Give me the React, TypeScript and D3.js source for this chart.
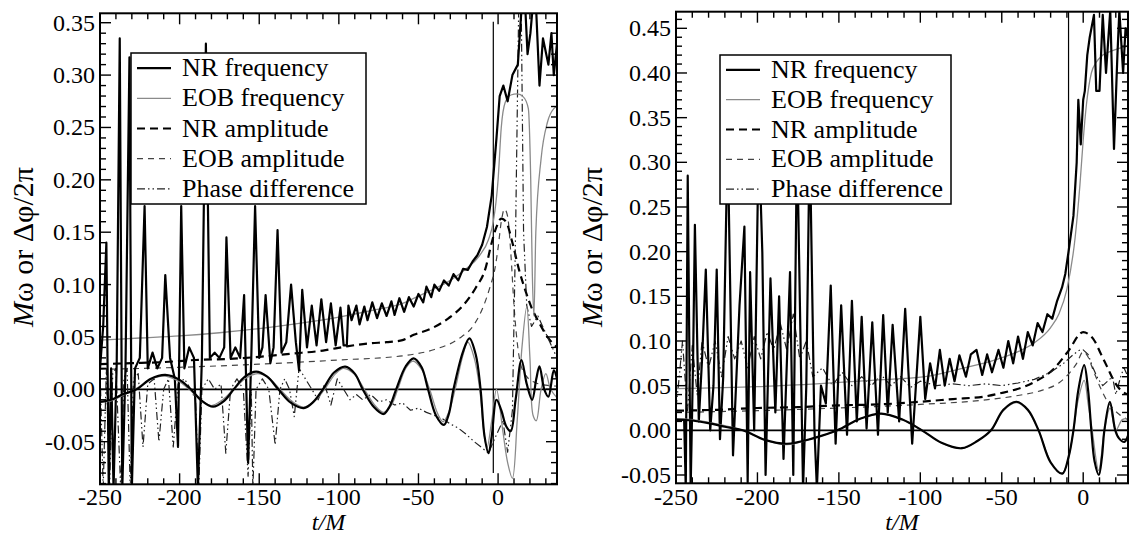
import React from "react";
import * as d3 from "d3";

type Pt = [number, number];

const width = 1136;
const height = 536;

const legendLabels = ["NR frequency", "EOB frequency", "NR amplitude", "EOB amplitude", "Phase difference"];
const xMajorTicks = [-250, -200, -150, -100, -50, 0];
const leftYTicks = [-0.05, 0, 0.05, 0.1, 0.15, 0.2, 0.25, 0.3, 0.35];
const rightYTicks = [-0.05, 0, 0.05, 0.1, 0.15, 0.2, 0.25, 0.3, 0.35, 0.4, 0.45];

// ---------- left panel ----------
const leftNrFreq: Pt[] = [
  [-250, 0.02], [-248, 0.06], [-246, 0.14], [-244.5, -0.095], [-243, 0.02], [-241.5, -0.095], [-239.5, 0.025],
  [-237.6, 0.335], [-236, -0.095], [-234, 0.02], [-231.5, 0.317], [-230, -0.095], [-228, 0.02], [-225, 0.03],
  [-222, 0.175], [-220, 0.02], [-217, 0.035], [-214, 0.02], [-211, 0.03], [-209, 0.109], [-206, 0.03], [-203, 0.01],
  [-201, -0.055], [-199, 0.175], [-197, 0.02], [-194, 0.04], [-191, 0.03], [-188.5, -0.095], [-186, 0.03],
  [-183.5, 0.33], [-181, 0.03], [-178, 0.035], [-175, 0.03], [-172, 0.04], [-170.6, 0.145], [-168, 0.03],
  [-165, 0.04], [-162, 0.03], [-159.5, 0.09], [-157, -0.07], [-155, 0.03], [-152.6, 0.175], [-150, 0.03],
  [-148, 0.04], [-146, 0.09], [-143, 0.025], [-141, 0.04], [-138.5, 0.152], [-136, 0.035], [-133, 0.045],
  [-130, 0.1], [-127, 0.045], [-125, 0.018], [-123, 0.095], [-120, 0.04], [-117, 0.08], [-114, 0.042],
  [-111, 0.086], [-108, 0.045], [-105, 0.082], [-102, 0.042], [-99, 0.078], [-97, 0.042], [-95, 0.042],
  [-94, 0.08], [-92, 0.066], [-89, 0.08], [-87, 0.062], [-84, 0.079], [-82, 0.066], [-79, 0.083], [-76, 0.068],
  [-73, 0.082], [-70, 0.07], [-67, 0.084], [-65, 0.071], [-62, 0.087], [-59, 0.074], [-56, 0.088], [-53, 0.079],
  [-50, 0.091], [-47, 0.083], [-45, 0.098], [-42, 0.088], [-40, 0.1], [-37, 0.094], [-34, 0.104], [-31, 0.099],
  [-28, 0.11], [-25, 0.104], [-22, 0.115], [-19, 0.114], [-16, 0.122], [-13, 0.128], [-10, 0.138], [-7, 0.155],
  [-4, 0.185], [-1, 0.24], [1, 0.28], [3.3, 0.29], [6, 0.275], [9, 0.3], [12.4, 0.31], [15, 0.37], [16.9, 0.37],
  [18.5, 0.32], [20.3, 0.34], [22, 0.37], [23.7, 0.37], [26, 0.29], [28.2, 0.335], [31.6, 0.31], [33.5, 0.34],
  [35, 0.3], [37, 0.33],
];
const leftEobFreq: Pt[] = [
  [-250, 0.047], [-225, 0.049], [-200, 0.051], [-175, 0.054], [-150, 0.058], [-125, 0.063], [-100, 0.069],
  [-80, 0.075], [-60, 0.082], [-50, 0.089], [-40, 0.096], [-30, 0.104], [-20, 0.115], [-12, 0.127], [-6, 0.143],
  [-3, 0.16], [0, 0.2], [2, 0.25], [4.5, 0.274], [8, 0.281], [12, 0.282], [16, 0.279], [19, 0.268], [20.5, 0.2],
  [21.5, 0.11], [22.5, 0.07], [23.7, 0.15], [27, 0.22], [31, 0.255], [35, 0.268], [37, 0.27],
];
const leftNrAmp: Pt[] = [
  [-250, 0.024], [-230, 0.025], [-210, 0.026], [-190, 0.028], [-170, 0.029], [-150, 0.031], [-130, 0.034],
  [-110, 0.037], [-95, 0.041], [-80, 0.044], [-70, 0.045], [-60, 0.047], [-53, 0.052], [-42, 0.058], [-31, 0.068],
  [-22, 0.08], [-14, 0.097], [-8, 0.115], [-4, 0.14], [-1, 0.155], [2, 0.163], [5, 0.16], [9, 0.14], [13, 0.115],
  [17, 0.095], [21, 0.078], [26, 0.063], [31, 0.05], [37, 0.04],
];
const leftEobAmp: Pt[] = [
  [-250, 0.019], [-200, 0.021], [-150, 0.024], [-100, 0.028], [-60, 0.032], [-40, 0.038], [-25, 0.048],
  [-15, 0.062], [-9, 0.08], [-5, 0.098], [-2, 0.115], [0, 0.135], [2, 0.16], [4, 0.172], [6, 0.165], [8, 0.13],
  [10, 0.08], [12, 0.045], [14, 0.025], [18, 0.012], [24, 0.006], [30, 0.004], [37, 0.003],
];
const leftPhase: Pt[] = [
  [-250, 0.02], [-248, -0.095], [-246, 0.02], [-244, -0.095], [-242, 0.015], [-240, 0.02], [-237, -0.095],
  [-235, 0.01], [-233, 0.02], [-231, -0.095], [-229, 0.01], [-226, 0.015], [-223, -0.055], [-220, 0.005],
  [-216, 0.01], [-213, -0.05], [-210, 0.0], [-207, 0.01], [-204, -0.055], [-201, 0.005], [-197, 0.01],
  [-193, 0.0], [-190, -0.01], [-188, -0.095], [-186, 0.0], [-182, 0.01], [-178, 0.0], [-174, 0.005],
  [-171, -0.061], [-168, 0.0], [-164, 0.01], [-160, 0.0], [-157, -0.083], [-155, 0.0], [-154, -0.095],
  [-152, 0.0], [-148, 0.01], [-144, 0.0], [-140, -0.053], [-137, 0.0], [-134, 0.01], [-131, 0.0], [-128, -0.026],
  [-125, 0.02], [-121, 0.01], [-117, 0.0], [-113, -0.01], [-109, 0.005], [-105, -0.015], [-101, 0.01],
  [-97, 0.0], [-93, -0.01], [-89, -0.005], [-85, -0.01], [-80, -0.005], [-75, -0.012], [-70, -0.01],
  [-65, -0.015], [-60, -0.013], [-55, -0.02], [-50, -0.018], [-45, -0.022], [-40, -0.025], [-35, -0.028],
  [-30, -0.033], [-25, -0.037], [-20, -0.043], [-15, -0.05], [-10, -0.056], [-6, -0.061], [-3, -0.05],
  [0, -0.04], [3, -0.03], [6, -0.06], [9, -0.02], [11, 0.15], [13, 0.37], [14.5, 0.37], [16, 0.15], [18, 0.08],
  [21, 0.06], [25, 0.07], [28, 0.06], [31, 0.05], [34, 0.04], [37, 0.03],
];
const leftNrWave: Pt[] = [
  [-250, -0.012], [-243, -0.01], [-236, -0.005], [-227, 0], [-218, 0.01], [-209, 0.0137], [-200, 0.009],
  [-193, 0], [-186, -0.011], [-179, -0.0166], [-172, -0.011], [-166, 0], [-159, 0.012], [-152, 0.0169],
  [-145, 0.012], [-138, 0], [-130, -0.013], [-122, -0.018], [-116, -0.012], [-110, 0], [-103, 0.016],
  [-96, 0.0217], [-90, 0.015], [-85, 0], [-78, -0.017], [-72, -0.0236], [-68, -0.016], [-64, 0], [-58, 0.022],
  [-53, 0.0296], [-48, 0.021], [-44, 0], [-39, -0.025], [-34, -0.034], [-31, -0.024], [-28, 0], [-22, 0.036],
  [-18, 0.0487], [-14, 0.033], [-11, 0], [-8.5, -0.045], [-6, -0.061], [-4, -0.045], [-1, -0.01], [2, -0.02],
  [5, -0.035], [7.9, -0.04], [11, -0.01], [14.7, 0.028], [18, 0.005], [21.4, -0.01], [24, 0.01], [26, 0.022],
  [29, 0.0], [31.6, -0.007], [35, 0.018], [37, 0.01],
];
const leftEobWave: Pt[] = [
  [-250, -0.012], [-243, -0.011], [-236, -0.006], [-228, 0], [-219, 0.009], [-210, 0.0125], [-201, 0.008],
  [-194, 0], [-187, -0.01], [-180, -0.0155], [-173, -0.01], [-166, 0], [-158, 0.011], [-151, 0.015],
  [-144, 0.011], [-137, 0], [-129, -0.012], [-122, -0.017], [-115, -0.011], [-109, 0], [-102, 0.015],
  [-97, 0.02], [-90, 0.014], [-84, 0], [-77, -0.016], [-72, -0.022], [-67, -0.015], [-63, 0], [-58, 0.02],
  [-53.5, 0.027], [-48, 0.019], [-43, 0], [-38, -0.023], [-34.5, -0.031], [-31, -0.022], [-27, 0],
  [-22, 0.033], [-19, 0.045], [-15, 0.03], [-11.5, 0], [-9, -0.04], [-7, -0.056], [-4, -0.03], [-1, 0.0],
  [3, -0.04], [6, -0.07], [9, -0.085], [12, -0.03], [15, 0.04], [18, 0.079], [20, 0.03], [22, -0.025],
  [24, -0.03], [27, 0.0], [30, 0.015], [33, 0.0], [37, -0.008],
];
const leftMarker: Pt[] = [[-3, -0.08], [-3, 0.351]];

// ---------- right panel ----------
const rightNrFreq: Pt[] = [
  [-250, 0.012], [-245, 0.012], [-244, -0.065], [-242.8, 0.285], [-241, -0.065], [-239.5, 0.08], [-238.4, 0.23],
  [-236, 0.01], [-234, 0.08], [-231.7, 0.18], [-229, 0.0], [-227, 0.05], [-225, 0.18], [-223, -0.01],
  [-221, 0.06], [-218.3, 0.33], [-215, -0.028], [-211, 0.14], [-208, 0.228], [-206, -0.058], [-204.5, 0.177],
  [-202, 0.0], [-199.2, 0.33], [-197, 0.199], [-195, -0.05], [-192, 0.17], [-189, 0.02], [-186.7, 0.15],
  [-184, -0.032], [-180, 0.177], [-178, -0.05], [-175.7, 0.33], [-172, -0.065], [-170, 0.05], [-167.9, 0.33],
  [-165, 0.0], [-163.5, -0.065], [-161, 0.05], [-158, 0.03], [-155, 0.162], [-152, -0.015], [-148.6, 0.14],
  [-145, -0.005], [-142, 0.145], [-139, 0.01], [-136, 0.127], [-133, 0.002], [-129.5, 0.121], [-126, -0.005],
  [-122.8, 0.129], [-120, 0.02], [-117, 0.118], [-113, 0.01], [-109.3, 0.136], [-105, -0.015], [-100, 0.127],
  [-97, 0.035], [-94, 0.075], [-91, 0.047], [-88, 0.09], [-85, 0.05], [-82, 0.08], [-79, 0.055], [-76, 0.084],
  [-72, 0.06], [-69, 0.085], [-65.5, 0.09], [-62, 0.062], [-59, 0.085], [-56, 0.065], [-52, 0.09], [-49, 0.07],
  [-46, 0.1], [-43, 0.075], [-40, 0.105], [-37, 0.08], [-34, 0.11], [-31, 0.095], [-28, 0.12], [-25, 0.11],
  [-22, 0.13], [-19, 0.125], [-16, 0.145], [-13, 0.16], [-11, 0.175], [-9, 0.2], [-6, 0.24], [-4, 0.3],
  [-3, 0.37], [-1.5, 0.32], [0, 0.37], [1, 0.38], [2.5, 0.42], [4, 0.44], [6.6, 0.465], [8, 0.38], [10, 0.38],
  [12, 0.465], [14, 0.4], [16.6, 0.47], [18.9, 0.315], [21, 0.42], [22.2, 0.47], [24.5, 0.4], [26, 0.45],
  [27.5, 0.44],
];
const rightEobFreq: Pt[] = [
  [-250, 0.0466], [-200, 0.049], [-164, 0.052], [-130, 0.056], [-97, 0.06], [-75, 0.069], [-52, 0.08],
  [-40, 0.088], [-30, 0.098], [-20, 0.115], [-15, 0.13], [-10, 0.158], [-5, 0.215], [-2, 0.275], [0, 0.325],
  [2, 0.365], [5, 0.4], [8, 0.412], [12, 0.42], [18, 0.425], [27.5, 0.43],
];
const rightNrAmp: Pt[] = [
  [-250, 0.022], [-225, 0.023], [-200, 0.025], [-175, 0.026], [-150, 0.028], [-125, 0.029], [-100, 0.032],
  [-80, 0.035], [-60, 0.038], [-52, 0.041], [-30, 0.054], [-18, 0.069], [-9.4, 0.088], [0, 0.11], [3, 0.108],
  [7, 0.1], [11, 0.085], [15, 0.07], [19, 0.055], [23, 0.045], [27.5, 0.04],
];
const rightEobAmp: Pt[] = [
  [-250, 0.02], [-200, 0.022], [-150, 0.025], [-100, 0.029], [-60, 0.034], [-40, 0.039], [-25, 0.045],
  [-15, 0.053], [-9, 0.063], [-4, 0.075], [0, 0.088], [3, 0.082], [6, 0.068], [10, 0.05], [14, 0.035],
  [18, 0.025], [22, 0.018], [27.5, 0.012],
];
const rightPhase: Pt[] = [
  [-250, 0.025], [-248, 0.06], [-246, 0.1], [-243, 0.02], [-240, 0.095], [-237, 0.04], [-234, 0.1], [-230, 0.07],
  [-226, 0.1], [-222, 0.06], [-218, 0.105], [-214, 0.08], [-210, 0.1], [-206, 0.07], [-202, 0.105], [-198, 0.08],
  [-194, 0.11], [-190, 0.09], [-186, 0.12], [-182, 0.09], [-178, 0.13], [-174, 0.08], [-170, 0.1], [-166, 0.06],
  [-160, 0.07], [-154, 0.05], [-148, 0.065], [-142, 0.05], [-136, 0.06], [-130, 0.05], [-124, 0.062],
  [-118, 0.05], [-112, 0.06], [-106, 0.048], [-100, 0.055], [-90, 0.05], [-80, 0.052], [-70, 0.05],
  [-60, 0.052], [-50, 0.05], [-40, 0.053], [-30, 0.057], [-20, 0.065], [-12, 0.075], [-6, 0.085], [-2, 0.09],
  [0, 0.09], [3, 0.085], [6, 0.07], [9, 0.058], [12, 0.05], [15, 0.055], [18, 0.06], [20, 0.04], [23, 0.06],
  [25, 0.07], [27.5, 0.06],
];
const rightNrWave: Pt[] = [
  [-250, 0.012], [-240, 0.011], [-230, 0.008], [-220, 0.004], [-209, 0], [-195, -0.011], [-182, -0.015],
  [-166, -0.009], [-151, 0], [-137, 0.013], [-124, 0.0187], [-111, 0.012], [-99, 0], [-87, -0.014],
  [-74.5, -0.02], [-65, -0.012], [-56.6, 0], [-49, 0.023], [-41, 0.032], [-34, 0.023], [-27.4, 0],
  [-20, -0.036], [-12.8, -0.0485], [-9, -0.03], [-6, 0], [-3, 0.045], [0.6, 0.073], [3, 0.045], [5, 0],
  [7, -0.035], [9.6, -0.05], [11.5, -0.03], [13, 0], [16.4, 0.032], [19.7, 0], [22, -0.009], [25.3, -0.013],
  [27.5, -0.006],
];
const rightEobWave: Pt[] = [
  [-250, 0.013], [-240, 0.012], [-230, 0.009], [-209, 0], [-195, -0.011], [-182, -0.016], [-166, -0.009],
  [-151, 0], [-137, 0.013], [-124, 0.0185], [-111, 0.012], [-99, 0], [-87, -0.014], [-74.5, -0.0205],
  [-65, -0.012], [-56.6, 0], [-49, 0.022], [-41, 0.031], [-34, 0.022], [-27.4, 0], [-20, -0.035],
  [-12.8, -0.048], [-9, -0.03], [-6, 0.0], [-3, 0.035], [0.6, 0.056], [3, 0.03], [5.5, 0], [9.5, -0.045],
  [13, 0], [16.5, 0.025], [20, 0.0], [24, 0.012], [27.5, 0.013],
];
const rightMarker: Pt[] = [[-9, -0.0593], [-9, 0.4686]];

type Style = { stroke: string; w: number; dash?: string; smooth: boolean };
const nrSolid: Style = { stroke: "#000", w: 2.2, smooth: false };
const eobSolid: Style = { stroke: "#8a8a8a", w: 1.3, smooth: true };
const nrDash: Style = { stroke: "#000", w: 2.2, dash: "8,5", smooth: true };
const eobDash: Style = { stroke: "#444", w: 1.2, dash: "6,5", smooth: true };
const phaseDash: Style = { stroke: "#222", w: 1.2, dash: "8,3,1.5,3,1.5,3", smooth: false };
const legendStyles = [nrSolid, eobSolid, nrDash, eobDash, phaseDash];

const FONT = "'Liberation Serif', 'Times New Roman', Times, serif";

type PanelProps = {
  id: string;
  box: { x0: number; x1: number; y0: number; y1: number };
  xDomain: [number, number];
  yDomain: [number, number];
  yTicks: number[];
  titleX: number;
  series: [Pt[], Style, boolean?][];
  marker: Pt[];
  legend: { x: number; y: number; w: number; h: number };
};

const Panel = ({ id, box, xDomain, yDomain, yTicks, titleX, series, marker, legend }: PanelProps) => {
  const x = d3.scaleLinear().domain(xDomain).range([box.x0, box.x1]);
  const y = d3.scaleLinear().domain(yDomain).range([box.y1, box.y0]);
  const xMinor = d3.range(-250, xDomain[1] + 0.001, 10);
  const yMinor = d3.range(Math.ceil(yDomain[0] * 100), Math.floor(yDomain[1] * 100) + 1).map((k) => k / 100);
  const base = d3.line<Pt>().x((d) => x(d[0])).y((d) => y(d[1]));
  const plotW = box.x1 - box.x0;
  const rowH = legend.h / 5;
  return (
    <g>
      <defs>
        <clipPath id={id}>
          <rect x={box.x0} y={box.y0} width={plotW} height={box.y1 - box.y0} />
        </clipPath>
      </defs>
      <g clipPath={`url(#${id})`}>
        <line x1={box.x0} x2={box.x1} y1={y(0)} y2={y(0)} stroke="#000" strokeWidth={1.8} />
        <path d={base(marker) || ""} stroke="#000" strokeWidth={1.2} fill="none" />
        {series.map(([data, s, wave], i) => {
          const curve = wave ? d3.curveCatmullRom.alpha(0.5) : s.smooth ? d3.curveMonotoneX : d3.curveLinear;
          return (
            <path key={i} d={base.curve(curve)(data) || ""} fill="none" stroke={s.stroke} strokeWidth={s.w} strokeDasharray={s.dash} strokeLinejoin="round" />
          );
        })}
      </g>
      {xMinor.map((t) => {
        const L = xMajorTicks.includes(t) ? 11 : 6;
        return (
          <g key={"xt" + t}>
            <line x1={x(t)} x2={x(t)} y1={box.y1} y2={box.y1 - L} stroke="#000" strokeWidth={1.4} />
            <line x1={x(t)} x2={x(t)} y1={box.y0} y2={box.y0 + L} stroke="#000" strokeWidth={1.4} />
          </g>
        );
      })}
      {yMinor.map((v) => {
        const L = Math.abs(Math.round(v * 100) % 5) === 0 ? 11 : 6;
        return (
          <g key={"yt" + v}>
            <line x1={box.x0} x2={box.x0 + L} y1={y(v)} y2={y(v)} stroke="#000" strokeWidth={1.4} />
            <line x1={box.x1} x2={box.x1 - L} y1={y(v)} y2={y(v)} stroke="#000" strokeWidth={1.4} />
          </g>
        );
      })}
      <rect x={box.x0} y={box.y0} width={plotW} height={box.y1 - box.y0} fill="none" stroke="#000" strokeWidth={2} />
      {xMajorTicks.map((t) => (
        <text key={"xl" + t} x={x(t)} y={505} textAnchor="middle" fontSize={24} fontFamily={FONT}>
          {t}
        </text>
      ))}
      {yTicks.map((v) => (
        <text key={"yl" + v} x={box.x0 - 5} y={y(v) + 8} textAnchor="end" fontSize={24} fontFamily={FONT}>
          {v.toFixed(2)}
        </text>
      ))}
      <text x={(box.x0 + box.x1) / 2} y={530} textAnchor="middle" fontSize={24} fontFamily={FONT} fontStyle="italic">
        t/M
      </text>
      <text transform={`translate(${titleX},247) rotate(-90)`} textAnchor="middle" fontSize={30} fontFamily={FONT}>
        <tspan fontStyle="italic">M</tspan>ω or Δφ/2π
      </text>
      <rect x={legend.x} y={legend.y} width={legend.w} height={legend.h} fill="#fff" stroke="#000" strokeWidth={1.5} />
      {legendLabels.map((lab, i) => {
        const s = legendStyles[i];
        const cy = legend.y + rowH * (i + 0.5);
        return (
          <g key={lab}>
            <line x1={legend.x + 6} x2={legend.x + 40} y1={cy} y2={cy} stroke={s.stroke} strokeWidth={s.w} strokeDasharray={s.dash} />
            <text x={legend.x + 51} y={cy + 8} fontSize={26} fontFamily={FONT}>
              {lab}
            </text>
          </g>
        );
      })}
    </g>
  );
};

export default function App() {
  return (
    <svg width={width} height={height} style={{ position: "absolute", left: 0, top: 0, background: "#fff" }}>
      <rect width={width} height={height} fill="#fff" />
      <Panel
        id="clipL"
        box={{ x0: 100, x1: 557, y0: 13.3, y1: 484.3 }}
        xDomain={[-250, 37]}
        yDomain={[-0.0907, 0.359]}
        yTicks={leftYTicks}
        titleX={33}
        marker={leftMarker}
        series={[
          [leftEobAmp, eobDash],
          [leftNrAmp, nrDash],
          [leftPhase, phaseDash],
          [leftEobFreq, eobSolid],
          [leftNrFreq, nrSolid],
          [leftEobWave, eobSolid, true],
          [leftNrWave, nrSolid, true],
        ]}
        legend={{ x: 131, y: 53, w: 235, h: 151 }}
      />
      <Panel
        id="clipR"
        box={{ x0: 676, x1: 1128, y0: 11.7, y1: 483.3 }}
        xDomain={[-250, 27.5]}
        yDomain={[-0.0593, 0.4686]}
        yTicks={rightYTicks}
        titleX={602}
        marker={rightMarker}
        series={[
          [rightEobAmp, eobDash],
          [rightNrAmp, nrDash],
          [rightPhase, phaseDash],
          [rightEobFreq, eobSolid],
          [rightNrFreq, nrSolid],
          [rightEobWave, eobSolid, true],
          [rightNrWave, nrSolid, true],
        ]}
        legend={{ x: 720, y: 55, w: 231, h: 149 }}
      />
    </svg>
  );
}
